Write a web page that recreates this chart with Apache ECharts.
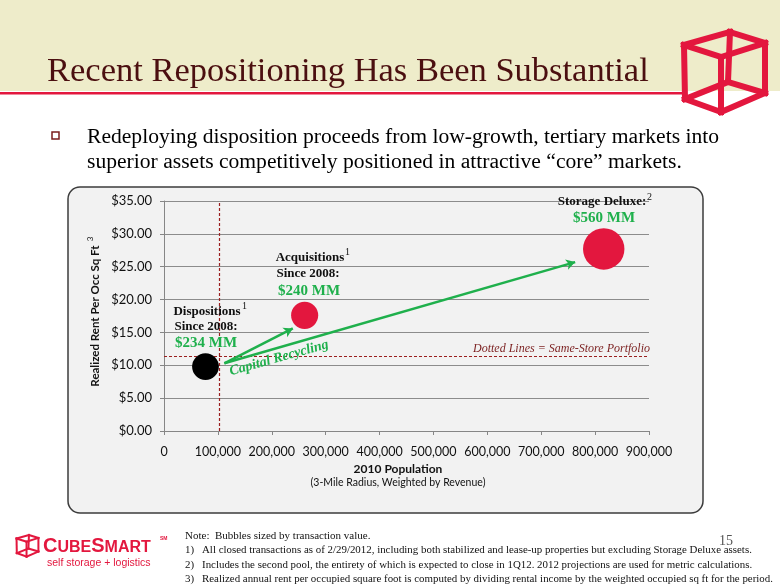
<!DOCTYPE html>
<html>
<head>
<meta charset="utf-8">
<script src="https://cdn.jsdelivr.net/npm/echarts@6/dist/echarts.min.js"></script>
<style>
html,body{margin:0;padding:0;background:#fff;}
#chart{width:780px;height:585px;}
</style>
</head>
<body>
<div id="chart"></div>
<script>
// ---- data ----
const categories = ['Dispositions', 'Acquisitions', 'Storage Deluxe'];
const population = [77000, 261000, 816000];
const rentPerSqFt = [9.8, 17.6, 27.7];
const transactionValueMM = [234, 240, 560];
const bubbleColors = ['#000000', '#e3173e', '#e3173e'];
const sameStorePopulation = 102000;
const sameStoreRent = 11.4;
const arrowStart = [112000, 10.3];
const arrowEnds = [[239000, 15.6], [763000, 25.7]];
const xMin = 0, xMax = 900000, xStep = 100000;
const yMin = 0, yMax = 35, yStep = 5;

const title = 'Recent Repositioning Has Been Substantial';
const bulletLines = [
  'Redeploying disposition proceeds from low-growth, tertiary markets into',
  'superior assets competitively positioned in attractive \u201ccore\u201d markets.'
];
const footnotes = [
  'All closed transactions as of 2/29/2012, including both stabilized and lease-up properties but excluding Storage Deluxe assets.',
  'Includes the second pool, the entirety of which is expected to close in 1Q12. 2012 projections are used for metric calculations.',
  'Realized annual rent per occupied square foot is computed by dividing rental income by the weighted occupied sq ft for the period.'
];

const chart = echarts.init(document.getElementById('chart'), null, {renderer: 'canvas'});

const green = '#1fb04c';
const serif = '"Liberation Serif", "Times New Roman", serif';
const sans = 'Lato, "Open Sans", sans-serif';
const red = '#e3173e';

function cube(ox, oy, s, lw) {
  const P = {
    A: [2, 13], B: [39, 25], C: [39, 80], D: [3, 67],
    E: [48, 0], F: [83, 11], G: [83, 61], H: [46, 50]
  };
  const edges = [['A','B'],['B','C'],['C','D'],['D','A'],['E','F'],['F','G'],['G','H'],['H','E'],['A','E'],['B','F'],['C','G'],['D','H']];
  return edges.map(e => ({
    type: 'line', z: 10,
    shape: {x1: ox + P[e[0]][0]*s, y1: oy + P[e[0]][1]*s, x2: ox + P[e[1]][0]*s, y2: oy + P[e[1]][1]*s},
    style: {stroke: red, lineWidth: lw, lineCap: 'square'}
  }));
}

function txt(x, y, text, font, fill, align, extra) {
  return Object.assign({type: 'text', x: x, y: y, z: 100,
    style: {text: text, font: font, fill: fill, align: align || 'left', verticalAlign: 'middle'}}, extra || {});
}

const graphics = [
  {type: 'rect', z: -2, shape: {x: 0, y: 0, width: 780, height: 91}, style: {fill: '#eeecca'}},
  {type: 'rect', z: -1, shape: {x: 0, y: 92, width: 686, height: 2.5}, style: {fill: red}},
  txt(47, 72, title, '34.5px ' + serif, '#4b0f10', 'left'),
  {type: 'rect', z: 10, shape: {x: 52, y: 132, width: 7, height: 7}, style: {fill: 'none', stroke: '#7a1c1c', lineWidth: 1.5}},
  txt(87, 137, bulletLines[0], '21.6px ' + serif, '#000', 'left'),
  txt(87, 162, bulletLines[1], '21.6px ' + serif, '#000', 'left'),
  {type: 'rect', z: -1, shape: {x: 68, y: 187, width: 635, height: 326, r: 12}, style: {fill: '#f2f2f2', stroke: '#3c3c3c', lineWidth: 1.5}},
  // annotations
  txt(207, 312, 'Dispositions', 'bold 13px ' + serif, '#111', 'center'),
  txt(242, 306, '1', '10px ' + serif, '#111', 'left'),
  txt(206, 327, 'Since 2008:', 'bold 13px ' + serif, '#111', 'center'),
  txt(206, 343, '$234 MM', 'bold 15px ' + serif, green, 'center'),
  txt(310, 258, 'Acquisitions', 'bold 13px ' + serif, '#111', 'center'),
  txt(345, 252, '1', '10px ' + serif, '#111', 'left'),
  txt(308, 274, 'Since 2008:', 'bold 13px ' + serif, '#111', 'center'),
  txt(309, 291, '$240 MM', 'bold 15px ' + serif, green, 'center'),
  txt(602, 202, 'Storage Deluxe:', 'bold 13px ' + serif, '#111', 'center'),
  txt(647, 197, '2', '10px ' + serif, '#111', 'left'),
  txt(604, 218, '$560 MM', 'bold 15px ' + serif, green, 'center'),
  txt(650, 349, 'Dotted Lines = Same-Store Portfolio', 'italic 12px ' + serif, '#7b1f1f', 'right'),
  txt(279, 358, 'Capital Recycling', 'bold italic 14px ' + serif, green, 'center', {rotation: 0.274}),
  // axis names
  txt(95, 316, 'Realized Rent Per Occ Sq Ft', 'bold 11.5px ' + sans, '#111', 'center', {rotation: Math.PI / 2}),
  txt(90, 239, '3', '8px ' + sans, '#111', 'center', {rotation: Math.PI / 2}),
  txt(398, 469, '2010 Population', 'bold 12px ' + sans, '#111', 'center'),
  txt(398, 483, '(3-Mile Radius, Weighted by Revenue)', '10.5px ' + sans, '#111', 'center'),
  // footer
  txt(185, 536, 'Note:  Bubbles sized by transaction value.', '11px ' + serif, '#111', 'left'),
  txt(726, 541, '15', '14px ' + serif, '#555', 'center'),
  {type: 'text', x: 43, y: 546, z: 100, style: {
    text: '{b|C}{s|UBE}{b|S}{s|MART}', verticalAlign: 'middle', align: 'left',
    rich: {b: {font: 'bold 20px "Liberation Sans", Arial, sans-serif', fill: red, verticalAlign: 'bottom'},
           s: {font: 'bold 16px "Liberation Sans", Arial, sans-serif', fill: red, verticalAlign: 'bottom'}}}},
  txt(160, 539, 'SM', 'bold 5px "Liberation Sans", Arial, sans-serif', red, 'left'),
  txt(47, 563, 'self storage + logistics', '10.5px "Liberation Sans", Arial, sans-serif', red, 'left')
];
footnotes.forEach((f, i) => {
  graphics.push(txt(185, 550 + i * 14.8, (i + 1) + ')', '10.9px ' + serif, '#111', 'left'));
  graphics.push(txt(202, 550 + i * 14.8, f, '10.9px ' + serif, '#111', 'left'));
});
cube(682, 32, 1.0, 6).forEach(g => graphics.push(g));
cube(16, 535, 0.27, 2).forEach(g => graphics.push(g));

const option = {
  animation: false,
  backgroundColor: '#ffffff',
  grid: {left: 164, top: 201, width: 485, height: 230, containLabel: false},
  xAxis: {
    type: 'value', min: xMin, max: xMax, interval: xStep,
    axisLine: {show: true, lineStyle: {color: '#868686', width: 1}},
    axisTick: {show: true, inside: false, length: 4, lineStyle: {color: '#868686'}},
    splitLine: {show: false},
    axisLabel: {margin: 14, color: '#111', fontFamily: 'Lato, sans-serif', fontSize: 12.5,
      formatter: v => v === 0 ? '0' : v.toLocaleString('en-US')}
  },
  yAxis: {
    type: 'value', min: yMin, max: yMax, interval: yStep,
    axisLine: {show: true, lineStyle: {color: '#868686', width: 1}},
    axisTick: {show: true, inside: false, length: 4, lineStyle: {color: '#868686'}},
    splitLine: {show: true, lineStyle: {color: '#8c8c8c', width: 1}},
    axisLabel: {margin: 12, color: '#111', fontFamily: 'Lato, sans-serif', fontSize: 13,
      formatter: v => '$' + v.toFixed(2)}
  },
  graphic: graphics,
  series: [
    {
      type: 'line', data: [], silent: true, z: 3,
      markLine: {
        silent: true, symbol: ['none', 'none'], label: {show: false},
        lineStyle: {color: '#9a1f1f', type: [3, 2], width: 1.2},
        data: [{xAxis: sameStorePopulation}, {yAxis: sameStoreRent}]
      }
    },
    {
      type: 'line', data: [], silent: true, z: 4,
      markLine: {
        silent: true, symbol: ['none', 'arrow'], symbolSize: [8, 9], label: {show: false},
        lineStyle: {color: green, type: 'solid', width: 2.5},
        data: arrowEnds.map(e => [{coord: arrowStart}, {coord: e}])
      }
    },
    {
      type: 'scatter', z: 5,
      data: categories.map((c, i) => ({
        name: c, value: [population[i], rentPerSqFt[i], transactionValueMM[i]],
        itemStyle: {color: bubbleColors[i], opacity: 1}
      })),
      symbolSize: v => 1.75 * Math.sqrt(v[2])
    }
  ]
};
chart.setOption(option);
</script>
</body>
</html>
